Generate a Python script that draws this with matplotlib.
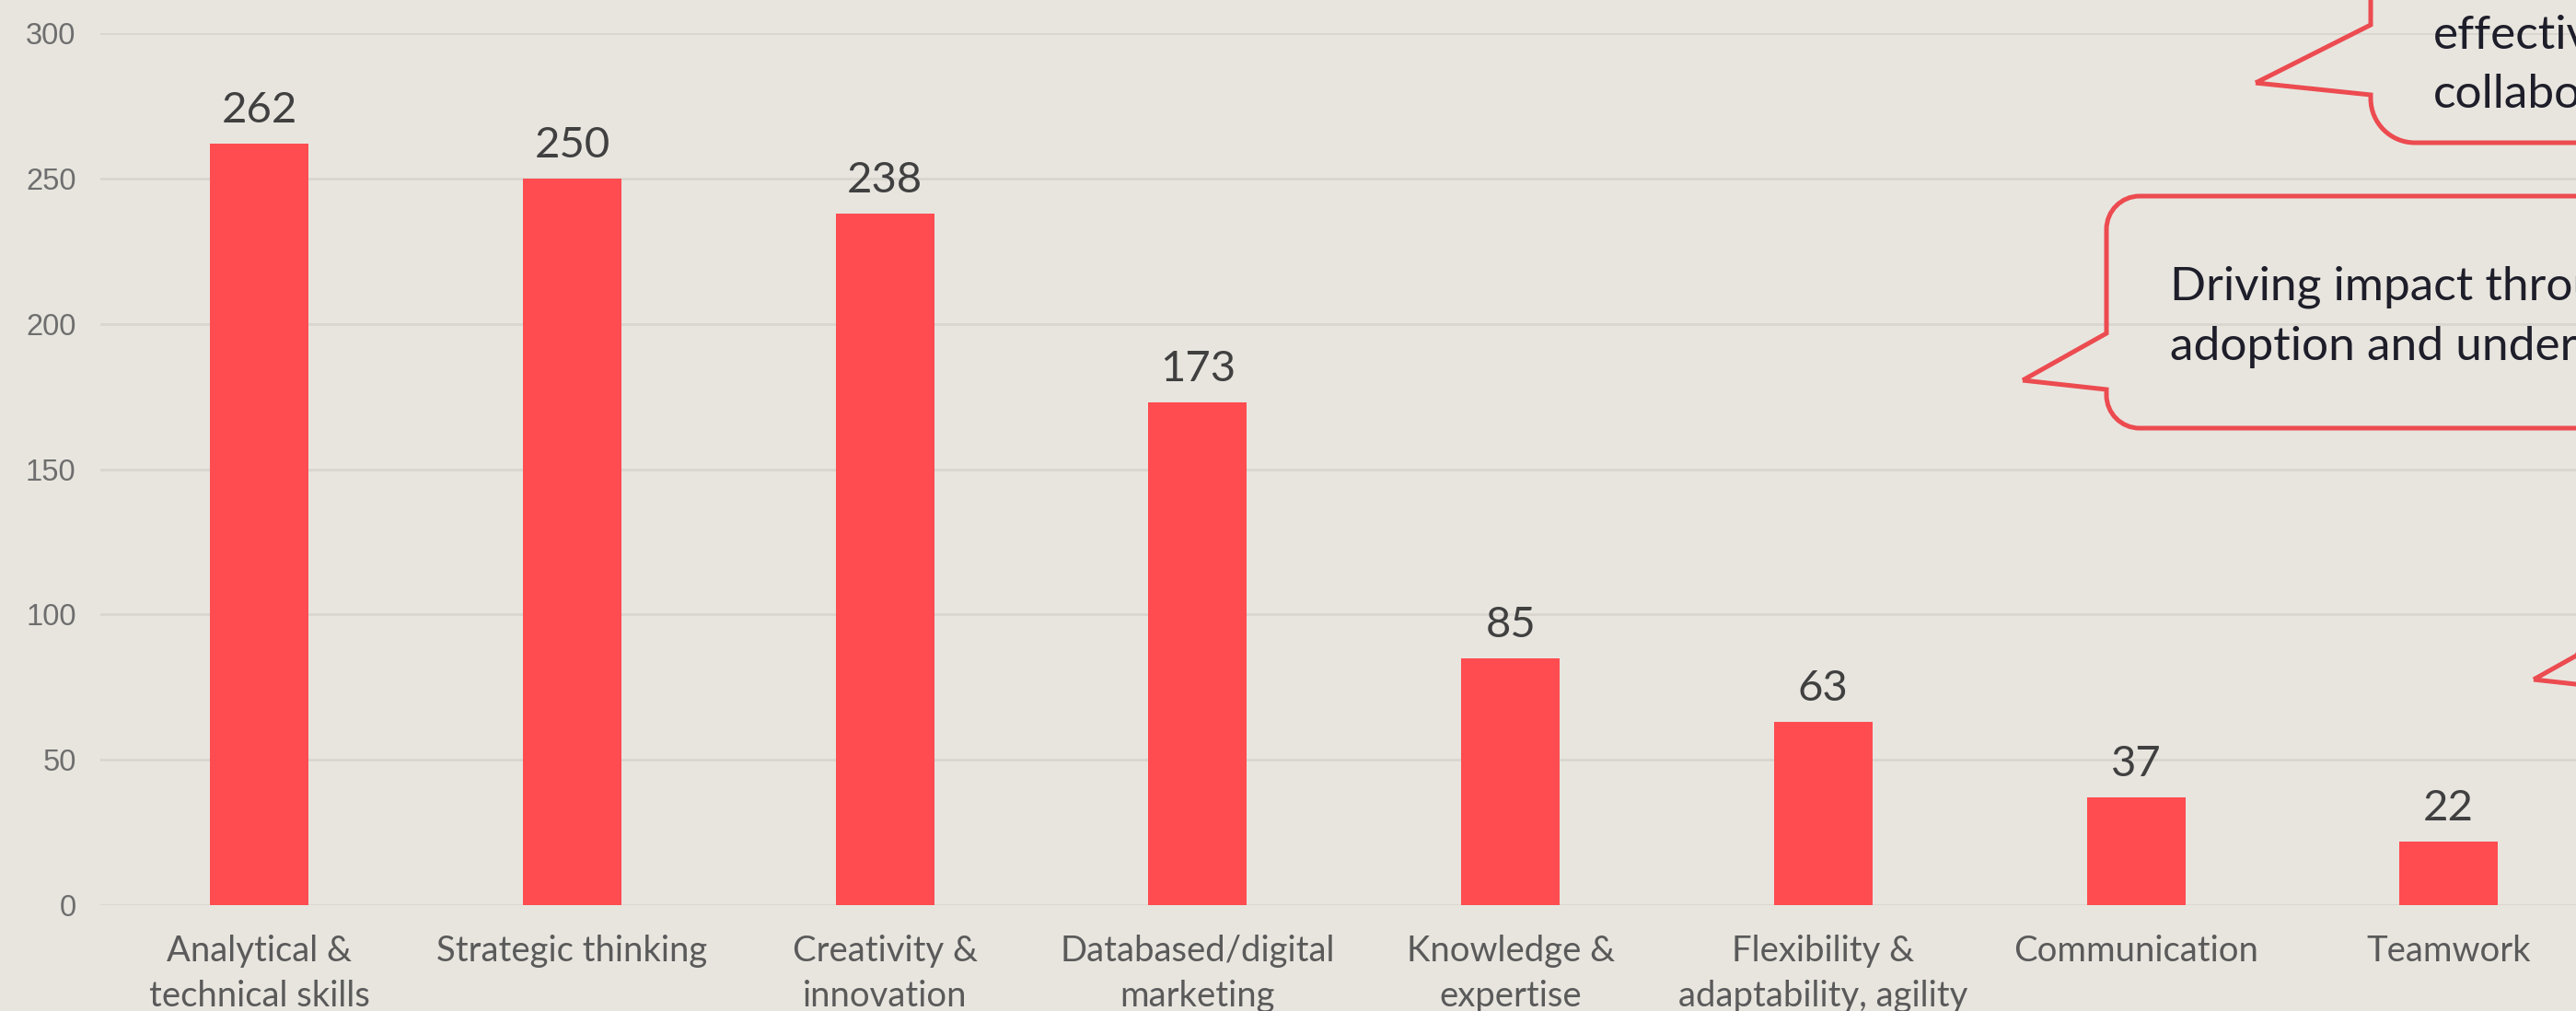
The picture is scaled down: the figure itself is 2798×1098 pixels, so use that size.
import matplotlib
matplotlib.use("Agg")
import matplotlib.pyplot as plt
from matplotlib.path import Path
from matplotlib.patches import PathPatch

# ---------------- data ----------------
categories = [
    "Analytical &\ntechnical skills",
    "Strategic thinking",
    "Creativity &\ninnovation",
    "Databased/digital\nmarketing",
    "Knowledge &\nexpertise",
    "Flexibility &\nadaptability, agility",
    "Communication",
    "Teamwork",
]
values = [262, 250, 238, 173, 85, 63, 37, 22]
yticks = [0, 50, 100, 150, 200, 250, 300]
callout_top_lines = ["effective", "collaboration"]
callout_mid_lines = ["Driving impact through", "adoption and understanding"]

# ---------------- style ----------------
W, H = 2798, 1098
BG = "#E8E5DF"
BAR = "#FF4C50"
GRID = "#D9D6D0"
EDGE = "#EC4B50"

fig = plt.figure(figsize=(W / 100, H / 100), dpi=100, facecolor=BG)

# axes placement (pixels -> figure fraction)
ax_left_px, ax_bottom_px, ax_top_px = 109, 983, 36
ax = fig.add_axes([ax_left_px / W, 1 - ax_bottom_px / H, 1 - ax_left_px / W,
                   (ax_bottom_px - ax_top_px) / H])
ax.set_facecolor(BG)

x = list(range(len(categories)))
ax.bar(x, values, width=0.315, color=BAR, zorder=3)
ax.set_xlim(-0.509, 7.407)
ax.set_ylim(0, 300)

ax.set_yticks(yticks)
ax.set_yticklabels([str(v) for v in yticks], fontsize=23.5, color="#6E6E6E",
                   family=["Liberation Sans", "DejaVu Sans"])
ax.set_xticks(x)
ax.set_xticklabels(categories, fontsize=27.5, color="#5A5A5A", family="Lato",
                   linespacing=1.45)
ax.tick_params(axis="y", length=0, pad=19)
ax.tick_params(axis="x", length=0, pad=23)
ax.grid(axis="y", color=GRID, linewidth=2, zorder=0)
for s in ax.spines.values():
    s.set_visible(False)

for xi, v in zip(x, values):
    ax.annotate(str(v), (xi, v), xytext=(0, 16.5), textcoords="offset points",
                ha="center", va="baseline", fontsize=34, color="#404040",
                family="Lato", zorder=4)

# ---------------- callouts ----------------
def fx(px):
    return px / W

def fy(py):
    return 1 - py / H

def callout(left, top, bottom, right, r, tip, a1, a2):
    k = 0.5523 * r
    pts = [
        tip, (left, a1), (left, top + r),
        (left, top + r - k), (left + r - k, top), (left + r, top),
        (right, top), (right, bottom), (left + r, bottom),
        (left + r - k, bottom), (left, bottom - r + k), (left, bottom - r),
        (left, a2), tip,
    ]
    codes = [Path.MOVETO, Path.LINETO, Path.LINETO,
             Path.CURVE4, Path.CURVE4, Path.CURVE4,
             Path.LINETO, Path.LINETO, Path.LINETO,
             Path.CURVE4, Path.CURVE4, Path.CURVE4,
             Path.LINETO, Path.CLOSEPOLY]
    verts = [(fx(px), fy(py)) for px, py in pts]
    patch = PathPatch(Path(verts, codes), transform=fig.transFigure,
                      fill=False, edgecolor=EDGE, linewidth=3.6,
                      joinstyle="miter", clip_on=False, zorder=5)
    fig.add_artist(patch)

callout(2575, -49, 155, 3600, 48, (2450, 90), 27, 103)
callout(2288, 213, 465, 3600, 36, (2197, 413), 362, 423)
callout(2843, 600, 860, 3600, 36, (2752, 738), 687, 748)

TXT = "#1E1E2A"
for i, line in enumerate(callout_top_lines):
    fig.text(fx(2643), fy(53 + 64 * i), line, fontsize=37, family="Lato",
             color=TXT, ha="left", va="baseline")
for i, line in enumerate(callout_mid_lines):
    fig.text(fx(2357), fy(325 + 65 * i), line, fontsize=37, family="Lato",
             color=TXT, ha="left", va="baseline")

fig.savefig("out.png", dpi=100, facecolor=BG)
